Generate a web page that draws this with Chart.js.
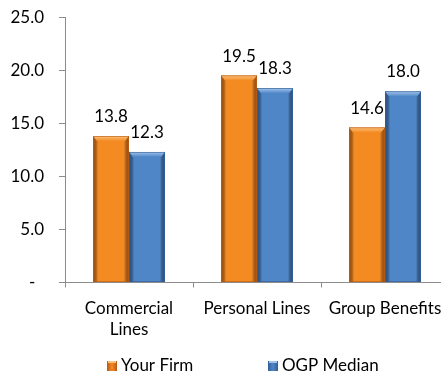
<!DOCTYPE html>
<html>
<head>
<meta charset="utf-8">
<script src="https://cdn.jsdelivr.net/npm/chart.js@4"></script>
<style>
  body{ margin:0; overflow:hidden; background:#fff; }
  canvas{ display:block; margin-top:-8px; }
</style>
</head>
<body>
<canvas id="c" width="460" height="384"></canvas>
<script>
const categories = [['Commercial','Lines'], 'Personal Lines', 'Group Benefits'];
const yourFirm = [13.8, 19.5, 14.6];
const ogpMedian = [12.3, 18.3, 18.0];
const seriesNames = ['Your Firm', 'OGP Median'];
const FONT = 'Lato, "Open Sans", sans-serif';
const FS = 17;

const shades = [
  { main:'#F48A22', dark:'#B85A14', light:'#FBC27A' },
  { main:'#4F86C8', dark:'#325F96', light:'#A2C4EA' }
];

// bevel look + value labels on top of each bar
const barDecor = {
  id:'barDecor',
  afterDatasetsDraw(chart){
    const ctx = chart.ctx;
    chart.data.datasets.forEach((ds, di)=>{
      const s = shades[di];
      chart.getDatasetMeta(di).data.forEach((bar, i)=>{
        const left = bar.x - bar.width/2, right = bar.x + bar.width/2;
        const top = bar.y, bottom = bar.base;
        ctx.save();
        let g = ctx.createLinearGradient(left,0,left+5,0);
        g.addColorStop(0, s.dark); g.addColorStop(1, 'rgba(0,0,0,0)');
        ctx.fillStyle = g; ctx.fillRect(left, top, 5, bottom-top);
        g = ctx.createLinearGradient(right-5,0,right,0);
        g.addColorStop(0, 'rgba(0,0,0,0)'); g.addColorStop(1, s.dark);
        ctx.fillStyle = g; ctx.fillRect(right-5, top, 5, bottom-top);
        g = ctx.createLinearGradient(0,top,0,top+5);
        g.addColorStop(0, s.light); g.addColorStop(1, s.main);
        ctx.fillStyle = g;
        ctx.beginPath();
        ctx.moveTo(left, top); ctx.lineTo(right, top);
        ctx.lineTo(right-4, top+5); ctx.lineTo(left+4, top+5); ctx.closePath();
        ctx.fill();
        ctx.strokeStyle = s.dark; ctx.lineWidth = 0.6;
        ctx.strokeRect(left+0.3, top+0.3, bar.width-0.6, bottom-top-0.6);
        ctx.restore();

        ctx.save();
        ctx.fillStyle = '#000';
        ctx.font = FS + 'px ' + FONT;
        ctx.textAlign = 'center';
        ctx.textBaseline = 'alphabetic';
        ctx.fillText(ds.data[i].toFixed(1), bar.x, top - 14);
        ctx.restore();
      });
    });
  }
};

// legend drawn under the axis
const legendRow = {
  id:'legendRow',
  afterDraw(chart){
    const ctx = chart.ctx;
    const xs = [107, 268];
    const y = 374;
    ctx.save();
    ctx.font = FS + 'px ' + FONT;
    ctx.textBaseline = 'middle';
    seriesNames.forEach((name, i)=>{
      const s = shades[i];
      const g = ctx.createLinearGradient(xs[i],0,xs[i]+10,0);
      g.addColorStop(0, s.dark); g.addColorStop(0.5, s.main); g.addColorStop(1, s.dark);
      ctx.fillStyle = g;
      ctx.fillRect(xs[i], y-5, 10, 10);
      ctx.fillStyle = s.light;
      ctx.fillRect(xs[i]+1, y-5, 8, 2);
      ctx.fillStyle = '#000';
      ctx.fillText(name, xs[i] + 14, y);
    });
    ctx.restore();
  }
};

new Chart(document.getElementById('c'), {
  type:'bar',
  data:{
    labels: categories,
    datasets:[
      { label: seriesNames[0], data: yourFirm, backgroundColor: shades[0].main, borderWidth:0 },
      { label: seriesNames[1], data: ogpMedian, backgroundColor: shades[1].main, borderWidth:0 }
    ]
  },
  options:{
    responsive:false,
    animation:false,
    layout:{ padding:{ top:0, right:11, bottom:26, left:0 } },
    plugins:{ legend:{ display:false }, tooltip:{ enabled:false } },
    datasets:{ bar:{ categoryPercentage:0.5625, barPercentage:1 } },
    scales:{
      x:{
        grid:{ drawOnChartArea:false, drawTicks:true, tickLength:5, color:'#8c8c8c', offset:true },
        border:{ color:'#8c8c8c' },
        ticks:{ color:'#000', font:{ family:FONT, size:FS, lineHeight:1.25 }, maxRotation:0, autoSkip:false, padding:10 }
      },
      y:{
        min:0, max:25,
        grid:{ drawOnChartArea:false, drawTicks:true, tickLength:6, color:'#8c8c8c' },
        border:{ color:'#8c8c8c' },
        ticks:{ stepSize:5, color:'#000', font:{ family:FONT, size:FS }, padding:15,
          callback:(v)=> v === 0 ? '-  ' : v.toFixed(1) },
        afterFit:(axis)=>{ axis.width = 65; }
      }
    }
  },
  plugins:[barDecor, legendRow]
});
</script>
</body>
</html>
